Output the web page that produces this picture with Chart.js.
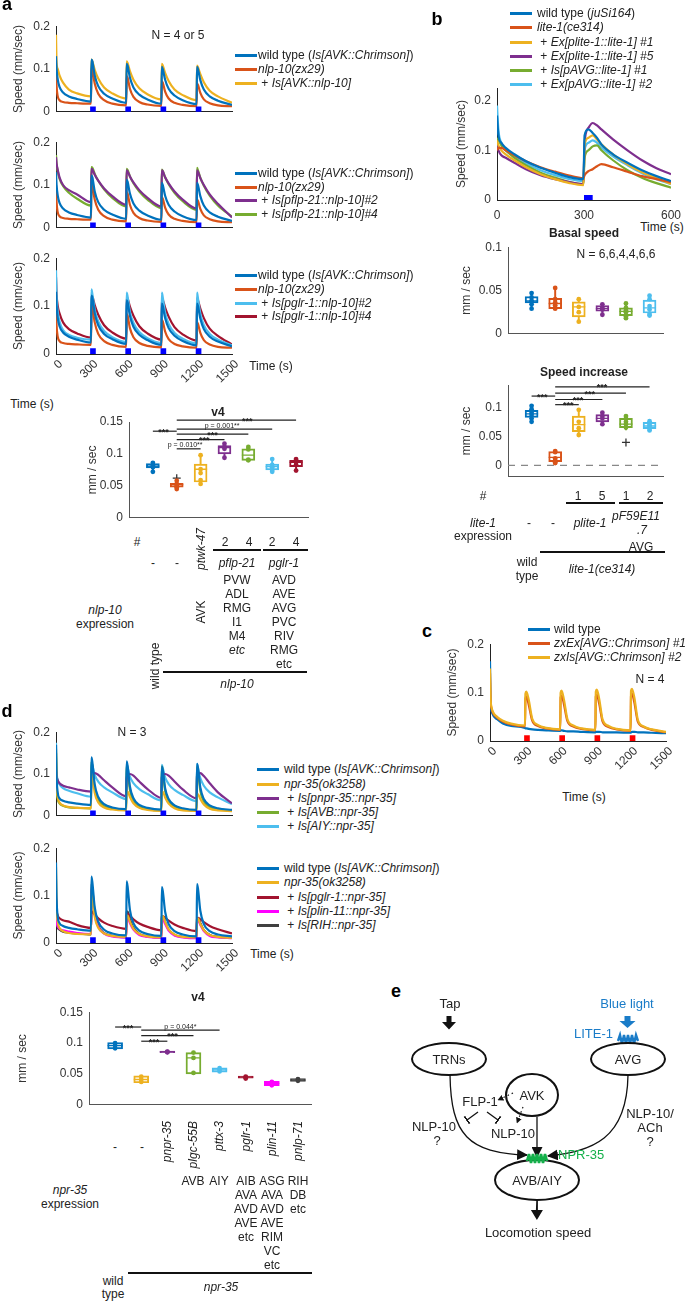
<!DOCTYPE html>
<html>
<head>
<meta charset="utf-8">
<script src="https://cdn.jsdelivr.net/npm/chart.js@4.4.0/dist/chart.umd.min.js"></script>
<style>
html, body { margin: 0; padding: 0; background: #fff; }
#page { position: relative; width: 685px; height: 1301px; overflow: hidden; font-family: "Liberation Sans", Arial, sans-serif; color: #222; }
canvas { position: absolute; }
.t { position: absolute; white-space: nowrap; font-size: 12px; line-height: 14px; }
.c { transform: translate(-50%, -50%); text-align: center; }
.l { transform: translate(0, -50%); }
.b { font-weight: bold; }
.letter { font-size: 18px; line-height: 20px; font-weight: bold; color: #000; }
.sw { position: absolute; width: 22px; height: 2.5px; }
.rule { position: absolute; height: 2px; background: #111; }
.rw { position: absolute; width: 0; height: 0; transform: rotate(-90deg); transform-origin: 0 0; }
.rw span { position: absolute; white-space: nowrap; font-size: 12px; line-height: 14px; }
</style>
</head>
<body>
<div id="page"></div>
<script>
var BLUE = '#0072BD', ORANGE = '#D95319', YELLOW = '#EDB120', PURPLE = '#7E2F8E',
	GREEN = '#77AC30', CYAN = '#4DBEEE', CRIMSON = '#A2142F', MAGENTA = '#FF00FF', DARK = '#404040';

// time points (s)
var tLong = [0, 5, 15, 30, 60, 110, 180, 298,
	302, 310, 330, 360, 410, 480, 598,
	602, 610, 630, 660, 710, 780, 898,
	902, 910, 930, 960, 1010, 1080, 1198,
	1202, 1210, 1230, 1260, 1310, 1380, 1500];
var tShort = [0, 5, 15, 30, 60, 100, 150, 200, 250, 298, 302, 315, 330, 345, 360, 400, 450, 500, 550, 600];
var longTicks = [0, 300, 600, 900, 1200, 1500];
var shortTicks = [0, 300, 600];
var speedTicks = [0, 0.1, 0.2];
var stimMid = [315, 615, 915, 1215];
var stimShort = [300, 330];

// panel a traces (mm/sec)
var aWild = [0.130, 0.100, 0.075, 0.058, 0.045, 0.036, 0.030, 0.024,
	0.122, 0.118, 0.085, 0.060, 0.042, 0.031, 0.021,
	0.112, 0.108, 0.080, 0.057, 0.040, 0.029, 0.019,
	0.105, 0.100, 0.075, 0.054, 0.038, 0.027, 0.018,
	0.105, 0.100, 0.074, 0.052, 0.036, 0.026, 0.016];
var aNlp10 = [0.100, 0.060, 0.036, 0.027, 0.023, 0.021, 0.020, 0.019,
	0.104, 0.098, 0.066, 0.042, 0.027, 0.019, 0.015,
	0.083, 0.080, 0.054, 0.035, 0.023, 0.017, 0.014,
	0.071, 0.068, 0.047, 0.031, 0.021, 0.016, 0.013,
	0.066, 0.063, 0.044, 0.029, 0.020, 0.015, 0.013];
var aAvk = [0.180, 0.115, 0.100, 0.085, 0.068, 0.052, 0.043, 0.036,
	0.122, 0.118, 0.098, 0.078, 0.057, 0.043, 0.031,
	0.118, 0.114, 0.095, 0.075, 0.055, 0.041, 0.029,
	0.112, 0.108, 0.091, 0.072, 0.052, 0.039, 0.027,
	0.108, 0.104, 0.088, 0.069, 0.049, 0.036, 0.021];
var aFlp2 = [0.165, 0.150, 0.135, 0.118, 0.100, 0.088, 0.078, 0.060,
	0.138, 0.136, 0.124, 0.110, 0.092, 0.074, 0.054,
	0.134, 0.132, 0.120, 0.106, 0.088, 0.070, 0.050,
	0.134, 0.132, 0.118, 0.104, 0.085, 0.066, 0.045,
	0.134, 0.131, 0.116, 0.100, 0.078, 0.056, 0.024];
var aFlp4 = [0.170, 0.150, 0.132, 0.115, 0.098, 0.082, 0.068, 0.052,
	0.142, 0.140, 0.126, 0.110, 0.090, 0.070, 0.050,
	0.138, 0.135, 0.120, 0.104, 0.085, 0.066, 0.046,
	0.136, 0.133, 0.118, 0.102, 0.082, 0.062, 0.042,
	0.140, 0.134, 0.117, 0.098, 0.075, 0.052, 0.026];
var aGlr2 = [0.175, 0.120, 0.088, 0.068, 0.050, 0.040, 0.034, 0.030,
	0.135, 0.125, 0.092, 0.068, 0.048, 0.035, 0.025,
	0.128, 0.120, 0.088, 0.065, 0.046, 0.033, 0.023,
	0.128, 0.118, 0.086, 0.063, 0.044, 0.032, 0.022,
	0.128, 0.116, 0.084, 0.060, 0.042, 0.030, 0.018];
var aGlr4 = [0.160, 0.125, 0.100, 0.085, 0.066, 0.052, 0.043, 0.034,
	0.122, 0.120, 0.102, 0.082, 0.060, 0.045, 0.032,
	0.118, 0.116, 0.099, 0.080, 0.058, 0.043, 0.030,
	0.116, 0.113, 0.097, 0.078, 0.056, 0.041, 0.028,
	0.116, 0.112, 0.095, 0.075, 0.053, 0.038, 0.020];

// panel b traces
var bWild = [0.170, 0.130, 0.115, 0.105, 0.092, 0.078, 0.065, 0.055, 0.046, 0.042, 0.130, 0.142, 0.135, 0.125, 0.112, 0.092, 0.075, 0.060, 0.048, 0.038];
var bLite = [0.100, 0.105, 0.105, 0.100, 0.090, 0.078, 0.066, 0.057, 0.049, 0.044, 0.050, 0.058, 0.062, 0.068, 0.072, 0.066, 0.057, 0.048, 0.042, 0.036];
var bEx1 = [0.120, 0.110, 0.100, 0.092, 0.080, 0.066, 0.052, 0.042, 0.034, 0.030, 0.110, 0.125, 0.130, 0.122, 0.112, 0.092, 0.072, 0.056, 0.044, 0.032];
var bEx5 = [0.110, 0.100, 0.090, 0.085, 0.075, 0.062, 0.050, 0.042, 0.036, 0.032, 0.115, 0.145, 0.155, 0.150, 0.142, 0.122, 0.100, 0.080, 0.064, 0.052];
var bAvg1 = [0.125, 0.120, 0.110, 0.100, 0.085, 0.070, 0.055, 0.045, 0.036, 0.032, 0.085, 0.100, 0.108, 0.110, 0.100, 0.080, 0.060, 0.045, 0.034, 0.025];
var bAvg2 = [0.190, 0.140, 0.115, 0.100, 0.088, 0.074, 0.060, 0.050, 0.042, 0.038, 0.100, 0.115, 0.120, 0.115, 0.106, 0.088, 0.070, 0.054, 0.042, 0.032];

// panel c traces
var cWild = [0.165, 0.080, 0.060, 0.052, 0.045, 0.036, 0.031, 0.027,
	0.026, 0.026, 0.025, 0.024, 0.023, 0.022, 0.021,
	0.022, 0.022, 0.021, 0.020, 0.020, 0.019, 0.018,
	0.019, 0.019, 0.019, 0.018, 0.018, 0.018, 0.017,
	0.018, 0.019, 0.019, 0.018, 0.018, 0.017, 0.016];
var cEx1 = [0.140, 0.085, 0.065, 0.056, 0.048, 0.040, 0.034, 0.030,
	0.088, 0.092, 0.075, 0.042, 0.031, 0.026, 0.023,
	0.090, 0.094, 0.076, 0.041, 0.030, 0.025, 0.022,
	0.092, 0.096, 0.078, 0.040, 0.029, 0.024, 0.021,
	0.093, 0.098, 0.080, 0.040, 0.029, 0.023, 0.018];
var cIs2 = [0.150, 0.090, 0.068, 0.058, 0.050, 0.042, 0.036, 0.032,
	0.098, 0.102, 0.085, 0.046, 0.033, 0.027, 0.024,
	0.100, 0.104, 0.086, 0.045, 0.032, 0.026, 0.023,
	0.102, 0.106, 0.088, 0.044, 0.031, 0.025, 0.022,
	0.104, 0.108, 0.090, 0.044, 0.030, 0.024, 0.019];

// panel d traces
var dWild = [0.170, 0.095, 0.055, 0.042, 0.036, 0.032, 0.029, 0.026,
	0.140, 0.128, 0.075, 0.045, 0.028, 0.020, 0.016,
	0.130, 0.120, 0.070, 0.042, 0.026, 0.019, 0.015,
	0.118, 0.110, 0.066, 0.040, 0.025, 0.018, 0.014,
	0.124, 0.115, 0.068, 0.040, 0.025, 0.018, 0.014];
var dNpr = [0.160, 0.080, 0.045, 0.032, 0.025, 0.021, 0.019, 0.018,
	0.112, 0.100, 0.055, 0.032, 0.020, 0.015, 0.013,
	0.058, 0.058, 0.045, 0.030, 0.019, 0.014, 0.012,
	0.056, 0.057, 0.044, 0.029, 0.018, 0.013, 0.012,
	0.050, 0.052, 0.040, 0.027, 0.017, 0.013, 0.011];
var dPnpr = [0.110, 0.095, 0.085, 0.078, 0.072, 0.068, 0.063, 0.058,
	0.090, 0.098, 0.102, 0.098, 0.085, 0.068, 0.047,
	0.090, 0.097, 0.100, 0.096, 0.082, 0.064, 0.043,
	0.092, 0.098, 0.100, 0.096, 0.082, 0.063, 0.042,
	0.095, 0.100, 0.102, 0.095, 0.078, 0.056, 0.030];
var dAvb = [0.150, 0.075, 0.040, 0.030, 0.024, 0.020, 0.019, 0.018,
	0.130, 0.118, 0.065, 0.038, 0.023, 0.017, 0.014,
	0.122, 0.112, 0.062, 0.036, 0.022, 0.016, 0.013,
	0.118, 0.108, 0.060, 0.035, 0.021, 0.016, 0.013,
	0.118, 0.108, 0.060, 0.034, 0.021, 0.016, 0.012];
var dAiy = [0.175, 0.110, 0.085, 0.075, 0.066, 0.060, 0.054, 0.046,
	0.128, 0.120, 0.098, 0.082, 0.068, 0.056, 0.040,
	0.124, 0.116, 0.094, 0.078, 0.064, 0.052, 0.037,
	0.122, 0.114, 0.092, 0.076, 0.062, 0.050, 0.035,
	0.124, 0.114, 0.090, 0.072, 0.056, 0.044, 0.028];
var dPglr = [0.095, 0.070, 0.058, 0.052, 0.048, 0.045, 0.038, 0.032,
	0.062, 0.066, 0.060, 0.052, 0.043, 0.036, 0.030,
	0.058, 0.062, 0.057, 0.050, 0.041, 0.034, 0.027,
	0.052, 0.056, 0.053, 0.047, 0.039, 0.032, 0.025,
	0.050, 0.053, 0.050, 0.044, 0.036, 0.029, 0.020];
var dPlin = [0.100, 0.050, 0.035, 0.030, 0.027, 0.024, 0.021, 0.019,
	0.115, 0.105, 0.060, 0.034, 0.020, 0.014, 0.012,
	0.055, 0.055, 0.042, 0.028, 0.017, 0.013, 0.011,
	0.050, 0.050, 0.040, 0.026, 0.016, 0.012, 0.010,
	0.048, 0.048, 0.038, 0.025, 0.015, 0.012, 0.010];
var dRih = [0.090, 0.045, 0.032, 0.028, 0.024, 0.022, 0.020, 0.018,
	0.125, 0.112, 0.065, 0.036, 0.021, 0.015, 0.012,
	0.065, 0.066, 0.050, 0.032, 0.019, 0.014, 0.012,
	0.055, 0.056, 0.044, 0.028, 0.017, 0.013, 0.011,
	0.052, 0.052, 0.042, 0.027, 0.017, 0.013, 0.011];

// panel a box plot (v4)
var aBoxColors = [BLUE, ORANGE, YELLOW, PURPLE, GREEN, CYAN, CRIMSON];
var aLo = [0.072, 0.045, 0.053, 0.094, 0.090, 0.071, 0.073];
var aQ1 = [0.078, 0.048, 0.056, 0.100, 0.090, 0.075, 0.080];
var aMed = [0.081, 0.052, 0.076, 0.110, 0.098, 0.080, 0.087];
var aQ3 = [0.085, 0.054, 0.084, 0.113, 0.108, 0.084, 0.090];
var aHi = [0.087, 0.058, 0.098, 0.117, 0.112, 0.092, 0.093];
var aPts = [[0.086, 0.082, 0.080, 0.079, 0.072], [0.058, 0.053, 0.050, 0.048, 0.045], [0.098, 0.076, 0.070, 0.059, 0.053],
	[0.116, 0.111, 0.108, 0.094], [0.111, 0.107, 0.091, 0.090], [0.092, 0.083, 0.079, 0.075, 0.072], [0.092, 0.090, 0.087, 0.083, 0.074]];
var aOutX = [2], aOutY = [0.062];
var aSigFrom = [1, 2, 2, 2, 2, 2], aSigTo = [2, 3, 4, 5, 6, 7];
var aSigY = [0.1356, 0.108, 0.1225, 0.131, 0.139, 0.153];
var aSigX = [1.45, 2.35, 3.15, 3.5, 3.9, 4.95];
var aSigText = ['***', 'p = 0.010**', '***', '***', 'p = 0.001**', '***'];

// panel b box plots
var bBoxColors = [BLUE, ORANGE, YELLOW, PURPLE, GREEN, CYAN];
var basLo = [0.029, 0.029, 0.0136, 0.022, 0.018, 0.020];
var basQ1 = [0.0357, 0.029, 0.0195, 0.026, 0.021, 0.024];
var basMed = [0.038, 0.035, 0.031, 0.029, 0.026, 0.030];
var basQ3 = [0.0429, 0.041, 0.037, 0.0325, 0.030, 0.039];
var basHi = [0.0477, 0.054, 0.040, 0.034, 0.0357, 0.044];
var basPts = [[0.047, 0.042, 0.038, 0.037, 0.034, 0.029], [0.053, 0.040, 0.036, 0.033, 0.030, 0.029], [0.040, 0.031, 0.025, 0.014],
	[0.034, 0.030, 0.028, 0.022], [0.035, 0.030, 0.027, 0.025, 0.020, 0.018], [0.044, 0.040, 0.032, 0.028, 0.023, 0.021]];
var incLo = [0.075, 0.0025, 0.051, 0.070, 0.062, 0.061];
var incQ1 = [0.0836, 0.0065, 0.0587, 0.076, 0.066, 0.064];
var incMed = [0.090, 0.014, 0.071, 0.082, 0.072, 0.0687];
var incQ3 = [0.096, 0.024, 0.086, 0.0885, 0.082, 0.075];
var incHi = [0.105, 0.0254, 0.097, 0.0935, 0.086, 0.0776];
var incPts = [[0.104, 0.098, 0.092, 0.088, 0.082, 0.076], [0.025, 0.023, 0.012, 0.008, 0.005, 0.004], [0.097, 0.076, 0.065, 0.053],
	[0.092, 0.086, 0.082, 0.072], [0.086, 0.082, 0.076, 0.072, 0.066], [0.077, 0.073, 0.070, 0.068, 0.064, 0.061]];
var incOutX = [5], incOutY = [0.040];
var incSigFrom = [1, 2, 2, 2, 2], incSigTo = [2, 3, 4, 5, 6];
var incSigY = [0.121, 0.106, 0.115, 0.126, 0.137];
var incSigX = [1.45, 2.55, 2.97, 3.47, 3.98];
var incSigText = ['***', '***', '***', '***', '***'];

// panel d box plot (v4)
var dBoxColors = [BLUE, YELLOW, PURPLE, GREEN, CYAN, CRIMSON, MAGENTA, DARK];
var dQ1 = [0.0905, 0.0357, 0.0846, 0.050, 0.053, 0.043, 0.031, 0.038];
var dMed = [0.096, 0.041, 0.086, 0.076, 0.0567, 0.0448, 0.0347, 0.040];
var dQ3 = [0.1006, 0.047, 0.087, 0.0846, 0.060, 0.0466, 0.038, 0.0425];
var dPts = [[0.0997, 0.096, 0.0915], [0.0457, 0.041, 0.037], [0.0862, 0.0855, 0.085], [0.0846, 0.0759, 0.0517],
	[0.0594, 0.0567, 0.054], [0.0457, 0.0443, 0.0425], [0.037, 0.0347, 0.0316], [0.0416, 0.040, 0.0389]];
var dSigFrom = [1, 2, 2, 2], dSigTo = [2, 3, 4, 5];
var dSigY = [0.126, 0.103, 0.112, 0.121];
var dSigX = [1.49, 2.49, 3.2, 3.5];
var dSigText = ['***', '***', '***', 'p = 0.044*'];

// legend labels
var legA1 = ['wild type (<i>Is[AVK::Chrimson]</i>)', '<i>nlp-10(zx29)</i>', '&nbsp;+ <i>Is[AVK::nlp-10]</i>'];
var legA2 = ['wild type (<i>Is[AVK::Chrimson]</i>)', '<i>nlp-10(zx29)</i>', '&nbsp;+ <i>Is[pflp-21::nlp-10]#2</i>', '&nbsp;+ <i>Is[pflp-21::nlp-10]#4</i>'];
var legA3 = ['wild type (<i>Is[AVK::Chrimson]</i>)', '<i>nlp-10(zx29)</i>', '&nbsp;+ <i>Is[pglr-1::nlp-10]#2</i>', '&nbsp;+ <i>Is[pglr-1::nlp-10]#4</i>'];
var legB = ['wild type (<i>juSi164</i>)', '<i>lite-1(ce314)</i>', '&nbsp;+ <i>Ex[plite-1::lite-1] #1</i>', '&nbsp;+ <i>Ex[plite-1::lite-1] #5</i>', '&nbsp;+ <i>Is[pAVG::lite-1] #1</i>', '&nbsp;+ <i>Ex[pAVG::lite-1] #2</i>'];
var legC = ['wild type', '<i>zxEx[AVG::Chrimson] #1</i>', '<i>zxIs[AVG::Chrimson] #2</i>'];
var legD1 = ['wild type (<i>Is[AVK::Chrimson]</i>)', '<i>npr-35(ok3258)</i>', '&nbsp;+ <i>Is[pnpr-35::npr-35]</i>', '&nbsp;+ <i>Is[AVB::npr-35]</i>', '&nbsp;+ <i>Is[AIY::npr-35]</i>'];
var legD2 = ['wild type (<i>Is[AVK::Chrimson]</i>)', '<i>npr-35(ok3258)</i>', '&nbsp;+ <i>Is[pglr-1::npr-35]</i>', '&nbsp;+ <i>Is[plin-11::npr-35]</i>', '&nbsp;+ <i>Is[RIH::npr-35]</i>'];

Chart.defaults.font.family = '"Liberation Sans", Arial, sans-serif';
Chart.defaults.font.size = 12;
Chart.defaults.color = '#333';
Chart.defaults.animation = false;
Chart.defaults.plugins.legend.display = false;
Chart.defaults.plugins.tooltip.enabled = false;

var PT = 8, PR = 14;
var page = document.getElementById('page');

function mount(area, yw, xh, pt) {
	var cv = document.createElement('canvas');
	var w = area.r - area.l + yw + PR;
	var h = area.b - area.t + pt + xh;
	cv.width = w;
	cv.height = h;
	cv.style.left = (area.l - yw) + 'px';
	cv.style.top = (area.t - pt) + 'px';
	page.appendChild(cv);
	return cv;
}

function fixed(vals) {
	return function(s) {
		s.ticks = vals.map(function(v) { return {value: v}; });
	};
}

function tickText(v) {
	return String(Math.round(v * 1000) / 1000);
}

function yAxis(min, max, ticks, title, yw, col) {
	return {
		type: 'linear', min: min, max: max,
		afterBuildTicks: fixed(ticks),
		afterFit: function(s) { s.width = yw; },
		grid: {display: false, drawTicks: false},
		border: {display: true, color: col, width: 1},
		ticks: {padding: 6, color: '#333', font: {size: 12}, callback: tickText},
		title: {display: true, text: title, color: '#333', font: {size: 12}, padding: 0}
	};
}

function xAxis(min, max, ticks, xh, show, rot, col) {
	return {
		type: 'linear', min: min, max: max, offset: false,
		afterBuildTicks: fixed(ticks),
		afterFit: function(s) { s.height = xh; },
		grid: {display: false, drawTicks: false},
		border: {display: true, color: col, width: 1},
		ticks: {display: show, padding: rot ? 3 : 8, color: '#333', font: {size: 12},
			minRotation: rot, maxRotation: rot, autoSkip: false, labelOffset: rot ? 5 : 0, callback: tickText}
	};
}

function traces(area, yw, xh, t, series, colors, xmax, ymax, xticks, showX, stim, stimColor) {
	var cv = mount(area, yw, xh, PT);
	var ds = [];
	if (stim.length == 2) {
		ds.push({data: [{x: stim[0], y: 0.005}, {x: stim[1], y: 0.005}], borderColor: stimColor, borderWidth: 5,
			borderCapStyle: 'butt', pointRadius: 0, order: 0});
	} else {
		ds.push({data: stim.map(function(s) { return {x: s, y: 0.006}; }), showLine: false, pointStyle: 'rect',
			pointRadius: 4, pointBackgroundColor: stimColor, pointBorderWidth: 0, order: 0});
	}
	series.forEach(function(v, i) {
		ds.push({
			data: t.map(function(tt, k) { return {x: tt, y: v[k]}; }),
			borderColor: colors[i], borderWidth: 2.2, pointRadius: 0,
			cubicInterpolationMode: 'monotone', fill: false, order: i + 1
		});
	});
	new Chart(cv, {
		type: 'line',
		data: {datasets: ds},
		options: {
			responsive: false, events: [],
			layout: {padding: {top: PT, right: PR, left: 0, bottom: 0}},
			scales: {
				x: xAxis(0, xmax, xticks, xh, showX, xmax > 1000 ? 45 : 0, '#222'),
				y: yAxis(0, ymax, speedTicks, 'Speed (mm/sec)', yw, '#222')
			}
		}
	});
}

function sigText(xs, ys, labels) {
	return {
		id: 'sigText',
		afterDatasetsDraw: function(chart) {
			var c = chart.ctx, sx = chart.scales.x, sy = chart.scales.y;
			c.save();
			c.fillStyle = '#222';
			c.textAlign = 'center';
			labels.forEach(function(s, k) {
				var star = s.charAt(0) == '*';
				c.font = (star ? 'bold 9px' : '7px') + ' "Liberation Sans", Arial, sans-serif';
				c.fillText(s, sx.getPixelForValue(xs[k]), sy.getPixelForValue(ys[k]) + (star ? 3.5 : -1.5));
			});
			c.restore();
		}
	};
}

function boxes(o) {
	var cv = mount(o.area, o.yw, 2, o.pt);
	var whisk = [], whiskCol = [], box = [], med = [], pts = [], ptCol = [], outs = [], ds = [];
	for (var i = 0; i < o.colors.length; i++) {
		whisk.push({x: i + 1, y: [o.lo[i], o.q1[i]]}, {x: i + 1, y: [o.q3[i], o.hi[i]]});
		whiskCol.push(o.colors[i], o.colors[i]);
		box.push({x: i + 1, y: [o.q1[i], o.q3[i]]});
		med.push({x: i + 1, y: o.med[i]});
		o.pts[i].forEach(function(v) {
			pts.push({x: i + 1, y: v});
			ptCol.push(o.colors[i]);
		});
	}
	(o.outX || []).forEach(function(x, k) { outs.push({x: x, y: o.outY[k]}); });

	for (var k = 0; k < o.sigFrom.length; k++) {
		ds.push({type: 'line', data: [{x: o.sigFrom[k], y: o.sigY[k]}, {x: o.sigTo[k], y: o.sigY[k]}],
			borderColor: '#222', borderWidth: 1.2, pointRadius: 0, clip: false, order: 0});
	}
	ds.push({type: 'line', data: pts, showLine: false, pointStyle: 'circle', pointRadius: 2.4,
		pointBackgroundColor: ptCol, pointBorderWidth: 0, order: 1});
	ds.push({type: 'line', data: outs, showLine: false, pointStyle: 'cross', pointRadius: 4,
		pointBorderColor: '#333', pointBorderWidth: 1.3, order: 1});
	ds.push({type: 'line', data: med, showLine: false, pointStyle: 'line', pointRadius: o.boxW / 2,
		pointBorderColor: o.colors, pointBorderWidth: 1.3, order: 2});
	ds.push({type: 'bar', data: box, backgroundColor: 'rgba(255,255,255,0)', borderColor: o.colors,
		borderWidth: 1.3, borderSkipped: false, barThickness: o.boxW, grouped: false, order: 3});
	ds.push({type: 'bar', data: whisk, backgroundColor: whiskCol, borderWidth: 0,
		barThickness: 1.3, grouped: false, order: 4});
	if (o.zero) {
		ds.push({type: 'line', data: [{x: 0, y: 0}, {x: o.xmax, y: 0}], borderColor: '#888', borderWidth: 1.2,
			borderDash: [7, 6], pointRadius: 0, order: 5});
	}
	new Chart(cv, {
		type: 'bar',
		data: {datasets: ds},
		options: {
			responsive: false, events: [],
			layout: {padding: {top: o.pt, right: PR, left: 0, bottom: 0}},
			scales: {
				x: xAxis(0, o.xmax, [0], 2, false, 0, '#555'),
				y: yAxis(o.ymin, o.ymax, o.yticks, 'mm / sec', o.yw, '#555')
			}
		},
		plugins: [sigText(o.sigX, o.sigY, o.sigText)]
	});
}

function put(x, y, html, cls, style) {
	var d = document.createElement('div');
	d.className = 't ' + (cls || 'c');
	d.style.left = x + 'px';
	d.style.top = y + 'px';
	if (style) d.style.cssText += style;
	d.innerHTML = html;
	page.appendChild(d);
}

function rot(x, y, html, mode) {
	var w = document.createElement('div');
	w.className = 'rw';
	w.style.left = x + 'px';
	w.style.top = y + 'px';
	var s = document.createElement('span');
	s.innerHTML = html;
	if (mode == 'end') {
		s.style.right = '0';
		s.style.top = '-7px';
	} else {
		s.style.left = '0';
		s.style.top = '0';
		s.style.transform = 'translate(-50%, -50%)';
	}
	w.appendChild(s);
	page.appendChild(w);
}

function rule(x1, x2, y) {
	var d = document.createElement('div');
	d.className = 'rule';
	d.style.left = x1 + 'px';
	d.style.width = (x2 - x1) + 'px';
	d.style.top = (y - 1) + 'px';
	page.appendChild(d);
}

function legend(x, ys, colors, labels, gap) {
	labels.forEach(function(lab, i) {
		var s = document.createElement('div');
		s.className = 'sw';
		s.style.left = x + 'px';
		s.style.top = (ys[i] - 1) + 'px';
		s.style.background = colors[i];
		page.appendChild(s);
		put(x + gap, ys[i], lab, 'l');
	});
}

function column(x, y0, words) {
	words.forEach(function(w, i) { put(x, y0 + i * 14, w); });
}

// ---- panel a ----
traces({l: 56, r: 232, t: 21, b: 122}, 45, 3, tLong, [aWild, aNlp10, aAvk], [BLUE, ORANGE, YELLOW],
	1500, 0.2, longTicks, false, stimMid, '#0000FF');
traces({l: 56, r: 232, t: 137, b: 238}, 45, 3, tLong, [aWild, aNlp10, aFlp2, aFlp4], [BLUE, ORANGE, PURPLE, GREEN],
	1500, 0.2, longTicks, false, stimMid, '#0000FF');
traces({l: 56, r: 232, t: 253, b: 354}, 45, 32, tLong, [aWild, aNlp10, aGlr2, aGlr4], [BLUE, ORANGE, CYAN, CRIMSON],
	1500, 0.2, longTicks, true, stimMid, '#0000FF');
boxes({area: {l: 129, r: 308, t: 422, b: 529}, yw: 44, pt: 16, xmax: 7.5, ymin: 0, ymax: 0.15, yticks: [0, 0.05, 0.1, 0.15],
	colors: aBoxColors, lo: aLo, q1: aQ1, med: aMed, q3: aQ3, hi: aHi, pts: aPts, outX: aOutX, outY: aOutY, boxW: 13,
	sigFrom: aSigFrom, sigTo: aSigTo, sigY: aSigY, sigX: aSigX, sigText: aSigText});

// ---- panel b ----
traces({l: 497, r: 675, t: 83, b: 200}, 43, 20, tShort, [bWild, bLite, bEx1, bEx5, bAvg1, bAvg2],
	[BLUE, ORANGE, YELLOW, PURPLE, GREEN, CYAN], 600, 0.225, shortTicks, true, stimShort, '#0000FF');
boxes({area: {l: 508, r: 663, t: 242, b: 345}, yw: 49, pt: 8, xmax: 6.57, ymin: 0, ymax: 0.1, yticks: [0, 0.05, 0.1],
	colors: bBoxColors, lo: basLo, q1: basQ1, med: basMed, q3: basQ3, hi: basHi, pts: basPts, boxW: 13,
	sigFrom: [], sigTo: [], sigY: [], sigX: [], sigText: []});
boxes({area: {l: 508, r: 663, t: 380, b: 488}, yw: 49, pt: 8, xmax: 6.57, ymin: -0.02, ymax: 0.14, yticks: [0, 0.05, 0.1],
	colors: bBoxColors, lo: incLo, q1: incQ1, med: incMed, q3: incQ3, hi: incHi, pts: incPts, outX: incOutX, outY: incOutY,
	boxW: 13, zero: true, sigFrom: incSigFrom, sigTo: incSigTo, sigY: incSigY, sigX: incSigX, sigText: incSigText});

// ---- panel c (yellow drawn over orange, as in the figure) ----
traces({l: 490, r: 666, t: 639, b: 741}, 45, 32, tLong, [cIs2, cEx1, cWild], [YELLOW, ORANGE, BLUE],
	1500, 0.2, longTicks, true, stimMid, '#FF0000');

// ---- panel d ----
traces({l: 56, r: 232, t: 727, b: 826}, 45, 3, tLong, [dWild, dNpr, dPnpr, dAvb, dAiy], [BLUE, YELLOW, PURPLE, GREEN, CYAN],
	1500, 0.2, longTicks, false, stimMid, '#0000FF');
traces({l: 56, r: 232, t: 843, b: 943}, 45, 32, tLong, [dWild, dNpr, dPglr, dPlin, dRih], [BLUE, YELLOW, CRIMSON, MAGENTA, DARK],
	1500, 0.2, longTicks, true, stimMid, '#0000FF');
boxes({area: {l: 89, r: 311, t: 1007, b: 1116}, yw: 74, pt: 8, xmax: 8.5, ymin: 0, ymax: 0.15, yticks: [0, 0.05, 0.1, 0.15],
	colors: dBoxColors, lo: dQ1, q1: dQ1, med: dMed, q3: dQ3, hi: dQ3, pts: dPts, boxW: 15,
	sigFrom: dSigFrom, sigTo: dSigTo, sigY: dSigY, sigX: dSigX, sigText: dSigText});

// ---- text: panel a ----
put(7, 4, 'a', 'c letter');
legend(235, [55, 69, 83], [BLUE, ORANGE, YELLOW], legA1, 23);
legend(235, [173, 187, 200, 214], [BLUE, ORANGE, PURPLE, GREEN], legA2, 23);
legend(235, [275, 289, 303, 316], [BLUE, ORANGE, CYAN, CRIMSON], legA3, 23);
put(178, 35, 'N = 4 or 5');
put(271, 366, 'Time (s)');
put(32, 404, 'Time (s)');
put(218, 412, 'v4', 'c b');
put(137, 542, '#');
put(225, 542, '2'); put(249, 542, '4'); put(272, 542, '2'); put(296, 542, '4');
rule(213, 261, 550);
rule(263, 308, 550);
put(153, 563, '-'); put(177, 563, '-');
rot(201, 528, '<i>ptwk-47</i>', 'end');
put(237, 563, '<i>pflp-21</i>');
put(284, 563, '<i>pglr-1</i>');
column(237, 580, ['PVW', 'ADL', 'RMG', 'I1', 'M4', '<i>etc</i>']);
column(284, 580, ['AVD', 'AVE', 'AVG', 'PVC', 'RIV', 'RMG', 'etc']);
rot(201, 612, 'AVK', 'mid');
put(105, 610, '<i>nlp-10</i>');
put(105, 624, 'expression');
rot(155, 666, 'wild type', 'mid');
rule(163, 307, 672);
put(237, 684, '<i>nlp-10</i>');

// ---- text: panel b ----
put(437, 19, 'b', 'c letter');
legend(510, [13, 27, 42, 56, 70, 84], [BLUE, ORANGE, YELLOW, PURPLE, GREEN, CYAN], legB, 27);
put(662, 227, 'Time (s)');
put(584, 233, 'Basal speed', 'c b');
put(616, 254, 'N = 6,6,4,4,6,6');
put(584, 372, 'Speed increase', 'c b');
put(483, 496, '#');
put(578, 496, '1'); put(602, 496, '5'); put(626, 496, '1'); put(650, 496, '2');
rule(566, 615, 503);
rule(619, 663, 503);
put(483, 523, '<i>lite-1</i>');
put(483, 536, 'expression');
put(529, 523, '-'); put(553, 523, '-');
put(590, 523, '<i>plite-1</i>');
put(636, 516, '<i>pF59E11</i>');
put(642, 530, '<i>.7</i>');
put(641, 547, 'AVG');
rule(540, 665, 552);
put(527, 562, 'wild');
put(527, 576, 'type');
put(602, 569, '<i>lite-1(ce314)</i>');

// ---- text: panel c ----
put(427, 631, 'c', 'c letter');
legend(528, [629, 643, 657], [BLUE, ORANGE, YELLOW], legC, 26);
put(650, 679, 'N = 4');
put(584, 797, 'Time (s)');

// ---- text: panel d ----
put(7, 711, 'd', 'c letter');
legend(257, [769, 784, 798, 812, 826], [BLUE, YELLOW, PURPLE, GREEN, CYAN], legD1, 27);
legend(257, [868, 882, 897, 911, 925], [BLUE, YELLOW, CRIMSON, MAGENTA, DARK], legD2, 27);
put(132, 732, 'N = 3');
put(272, 954, 'Time (s)');
put(198, 997, 'v4', 'c b');
put(115, 1147, '-'); put(142, 1147, '-');
rot(167, 1121, '<i>pnpr-35</i>', 'end');
rot(193, 1121, '<i>plgc-55B</i>', 'end');
rot(219, 1121, '<i>pttx-3</i>', 'end');
rot(246, 1121, '<i>pglr-1</i>', 'end');
rot(272, 1121, '<i>plin-11</i>', 'end');
rot(298, 1121, '<i>pnlp-71</i>', 'end');
put(193, 1181, 'AVB');
put(219, 1181, 'AIY');
column(246, 1181, ['AIB', 'AVA', 'AVD', 'AVE', 'etc']);
column(272, 1181, ['ASG', 'AVA', 'AVD', 'AVE', 'RIM', 'VC', 'etc']);
column(298, 1181, ['RIH', 'DB', 'etc']);
put(70, 1190, '<i>npr-35</i>');
put(70, 1204, 'expression');
rule(128, 312, 1273);
put(113, 1281, 'wild');
put(113, 1294, 'type');
put(221, 1287, '<i>npr-35</i>');

// ---- panel e: schematic ----
put(396, 991, 'e', 'c letter');
var LB = '#1a7cc8', NG = '#14b04a';
var svg = '<svg xmlns="http://www.w3.org/2000/svg" width="685" height="1301" style="position:absolute;left:0;top:0" ' +
	'font-family="Liberation Sans, Arial, sans-serif" font-size="13" fill="#222">' +
	'<defs>' +
	'<marker id="ah" viewBox="0 0 10 10" refX="9" refY="5" markerWidth="11" markerHeight="11" markerUnits="userSpaceOnUse" orient="auto"><path d="M0,0L10,5L0,10z" fill="#111"/></marker>' +
	'<marker id="ahs" viewBox="0 0 10 10" refX="9" refY="5" markerWidth="6" markerHeight="6" markerUnits="userSpaceOnUse" orient="auto"><path d="M0,0L10,5L0,10z" fill="#111"/></marker>' +
	'<marker id="tb" viewBox="0 0 2 10" refX="1" refY="5" markerWidth="1.8" markerHeight="10" markerUnits="userSpaceOnUse" orient="auto"><rect width="2" height="10" fill="#111"/></marker>' +
	'</defs>' +
	'<text x="450" y="1008" text-anchor="middle">Tap</text>' +
	'<path d="M446.5,1016 h5 v6 h4.5 l-7,7.5 l-7,-7.5 h4.5 z" fill="#111"/>' +
	'<text x="627" y="1008" text-anchor="middle" fill="' + LB + '">Blue light</text>' +
	'<path d="M624.5,1016 h6 v5 h5 l-8,7 l-8,-7 h5 z" fill="' + LB + '"/>' +
	'<text x="613" y="1038" text-anchor="end" fill="' + LB + '">LITE-1</text>' +
	'<path d="M618,1041 l2,-6 l2,9 l2,-9 l2,9 l2,-9 l2,9 l2,-9 l2,9 l2,-9 l2,6" fill="none" stroke="' + LB + '" stroke-width="2.4"/>' +
	'<ellipse cx="449" cy="1059" rx="37" ry="16" fill="#fff" stroke="#111" stroke-width="2"/>' +
	'<text x="449" y="1064" text-anchor="middle">TRNs</text>' +
	'<ellipse cx="628" cy="1059" rx="37" ry="16" fill="#fff" stroke="#111" stroke-width="2"/>' +
	'<text x="628" y="1064" text-anchor="middle">AVG</text>' +
	'<ellipse cx="532" cy="1095" rx="26" ry="21" fill="#fff" stroke="#111" stroke-width="2"/>' +
	'<text x="532" y="1100" text-anchor="middle">AVK</text>' +
	'<path d="M450,1075 C451,1135 468,1153 527,1155" fill="none" stroke="#111" stroke-width="1.3" marker-end="url(#ah)"/>' +
	'<path d="M537,1117 L537,1157" fill="none" stroke="#111" stroke-width="1.3" marker-end="url(#ah)"/>' +
	'<path d="M628,1075 C627,1140 592,1151 548,1156" fill="none" stroke="#111" stroke-width="1.3" marker-end="url(#ah)"/>' +
	'<text x="480" y="1106" text-anchor="middle">FLP-1</text>' +
	'<path d="M513,1093 L498,1100" fill="none" stroke="#111" stroke-width="1.2" stroke-dasharray="1.5,3" marker-end="url(#ahs)"/>' +
	'<path d="M478,1112 L467,1120" fill="none" stroke="#111" stroke-width="1.3" marker-end="url(#tb)"/>' +
	'<path d="M487,1112 L498,1120" fill="none" stroke="#111" stroke-width="1.3" marker-end="url(#tb)"/>' +
	'<path d="M523,1107 L517,1123" fill="none" stroke="#111" stroke-width="1.2" stroke-dasharray="1.5,3" marker-end="url(#ahs)"/>' +
	'<text x="513" y="1138" text-anchor="middle">NLP-10</text>' +
	'<text x="434" y="1131" text-anchor="middle">NLP-10</text>' +
	'<text x="437" y="1145" text-anchor="middle">?</text>' +
	'<text x="650" y="1118" text-anchor="middle">NLP-10/</text>' +
	'<text x="650" y="1132" text-anchor="middle">ACh</text>' +
	'<text x="650" y="1146" text-anchor="middle">?</text>' +
	'<ellipse cx="537" cy="1180" rx="42" ry="20" fill="#fff" stroke="#111" stroke-width="2"/>' +
	'<text x="537" y="1185" text-anchor="middle">AVB/AIY</text>' +
	'<path d="M527,1161 l2,-7 l2,9 l2,-9 l2,9 l2,-9 l2,9 l2,-9 l2,9 l2,-9 l2,7" fill="none" stroke="' + NG + '" stroke-width="2.6"/>' +
	'<text x="558" y="1159" fill="' + NG + '">NPR-35</text>' +
	'<path d="M536.3,1200 h1.6 v10 h5 l-6,10 l-6,-10 h5 z" fill="#111"/>' +
	'<text x="538" y="1237" text-anchor="middle">Locomotion speed</text>' +
	'</svg>';
var holder = document.createElement('div');
holder.innerHTML = svg;
page.appendChild(holder.firstChild);
</script>
</body>
</html>
